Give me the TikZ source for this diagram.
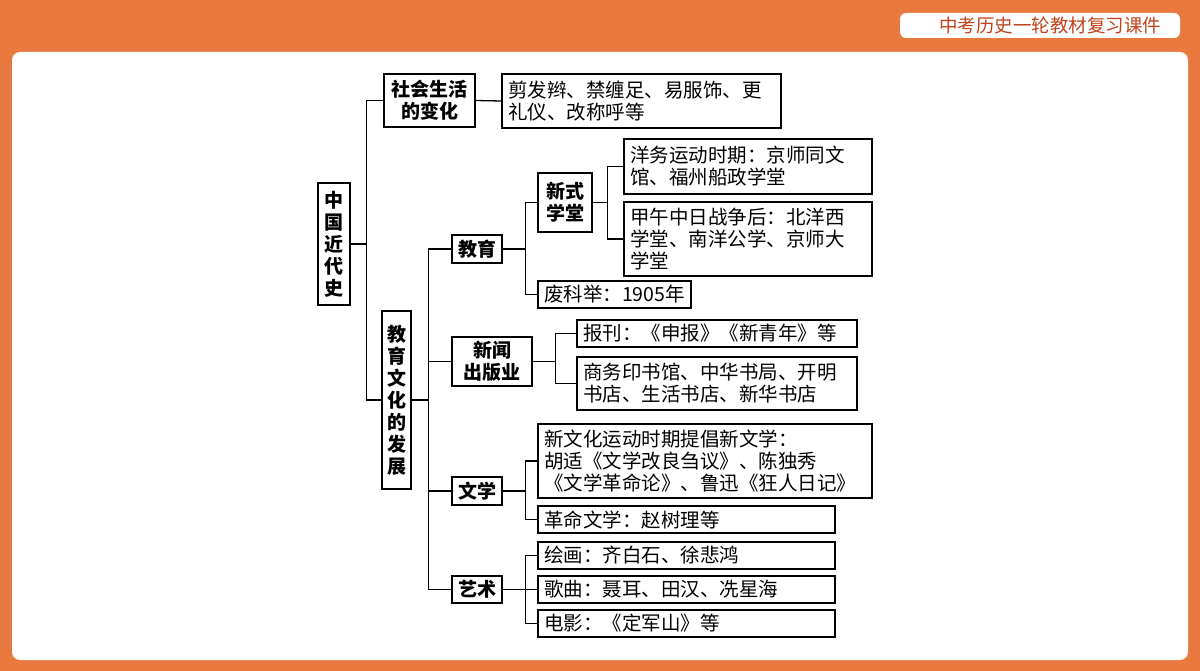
\documentclass[tikz,border=0pt]{standalone}
\usepackage{fontspec}
\setmainfont{Noto Sans CJK SC}
\usetikzlibrary{positioning}
\definecolor{frame}{HTML}{E8783E}
\definecolor{titlered}{HTML}{C0431A}
\tikzset{
  box/.style={draw=black, line width=1.3pt, inner sep=0pt, font=\fontsize{19.5}{22}\selectfont},
  cat/.style={box, align=center, font=\fontsize{19}{22}\selectfont\bfseries},
  leaf/.style={box, align=left, inner xsep=6pt},
  link/.style={line width=1.3pt}
}
\begin{document}
\begin{tikzpicture}[x=1pt,y=-1pt]
\useasboundingbox (0,0) rectangle (1200,671);
\fill [frame] (0,0) rectangle (1200,671);
\fill [white, rounded corners=8pt] (12,52) rectangle (1188,660);
\fill [white, rounded corners=6pt] (900,13) rectangle (1180,38);
\node [text=titlered, font=\fontsize{18.5}{20}\selectfont] (title) at (1050,25.5) {中考历史一轮教材复习课件};
% main boxes
\node [cat, minimum width=32, minimum height=122] (root) at (334,244) {中\\国\\近\\代\\史};
\node [cat, minimum width=91, minimum height=53] (soc) at (429.5,100.5) {社会生活\\的变化};
\node [leaf, text width=267, minimum height=54] (socL) at (641.5,101) {剪发辫、禁缠足、易服饰、更\\礼仪、改称呼等};
\node [cat, minimum width=29, minimum height=178] (edu) at (396.5,400) {教\\育\\文\\化\\的\\发\\展};
% education
\node [cat, minimum width=50, minimum height=28] (jy) at (477,249) {教育};
\node [cat, minimum width=54, minimum height=59] (xs) at (565,202.5) {新式\\学堂};
\node [leaf, text width=236, minimum height=55] (yw) at (748,166.5) {洋务运动时期：京师同文\\馆、福州船政学堂};
\node [leaf, text width=236, minimum height=74] (jw) at (748,239) {甲午中日战争后：北洋西\\学堂、南洋公学、京师大\\学堂};
\node [leaf, text width=141, minimum height=27] (fk) at (614.5,294.5) {废科举：1905年};
% press
\node [cat, minimum width=80, minimum height=49] (xw) at (492,361.5) {新闻\\出版业};
\node [leaf, text width=268, minimum height=27] (bk) at (717,333.5) {报刊：《申报》《新青年》等};
\node [leaf, text width=268, minimum height=53] (sw) at (717,383.5) {商务印书馆、中华书局、开明\\书店、生活书店、新华书店};
% literature
\node [cat, minimum width=50, minimum height=28] (wx) at (477,491) {文学};
\node [leaf, text width=322, minimum height=74] (xwh) at (705,461) {新文化运动时期提倡新文学：\\胡适《文学改良刍议》、陈独秀\\《文学革命论》、鲁迅《狂人日记》};
\node [leaf, text width=285, minimum height=27] (gm) at (686.5,519.5) {革命文学：赵树理等};
% art
\node [cat, minimum width=50, minimum height=27] (ys) at (477,589.5) {艺术};
\node [leaf, text width=285, minimum height=27] (hh) at (686.5,555.5) {绘画：齐白石、徐悲鸿};
\node [leaf, text width=285, minimum height=27] (gq) at (686.5,589.5) {歌曲：聂耳、田汉、冼星海};
\node [leaf, text width=285, minimum height=27] (dy) at (686.5,623.5) {电影：《定军山》等};
% connectors
\draw [link] (root.east) -- ++(16,0) |- (soc.west);
\draw [link] (root.east) -- ++(16,0) |- (edu.west);
\draw [link] (soc.east) -- (socL.west);
\foreach \c in {jy, xw, wx, ys}
  \draw [link] (edu.east) -- ++(17,0) |- (\c.west);
\foreach \c in {xs, fk}
  \draw [link] (jy.east) -- ++(23,0) |- (\c.west);
\foreach \c in {yw, jw}
  \draw [link] (xs.east) -- ++(15,0) |- (\c.west);
\foreach \c in {bk, sw}
  \draw [link] (xw.east) -- ++(23,0) |- (\c.west);
\foreach \c in {xwh, gm}
  \draw [link] (wx.east) -- ++(23,0) |- (\c.west);
\foreach \c in {hh, gq, dy}
  \draw [link] (ys.east) -- ++(23,0) |- (\c.west);
\end{tikzpicture}
\end{document}
